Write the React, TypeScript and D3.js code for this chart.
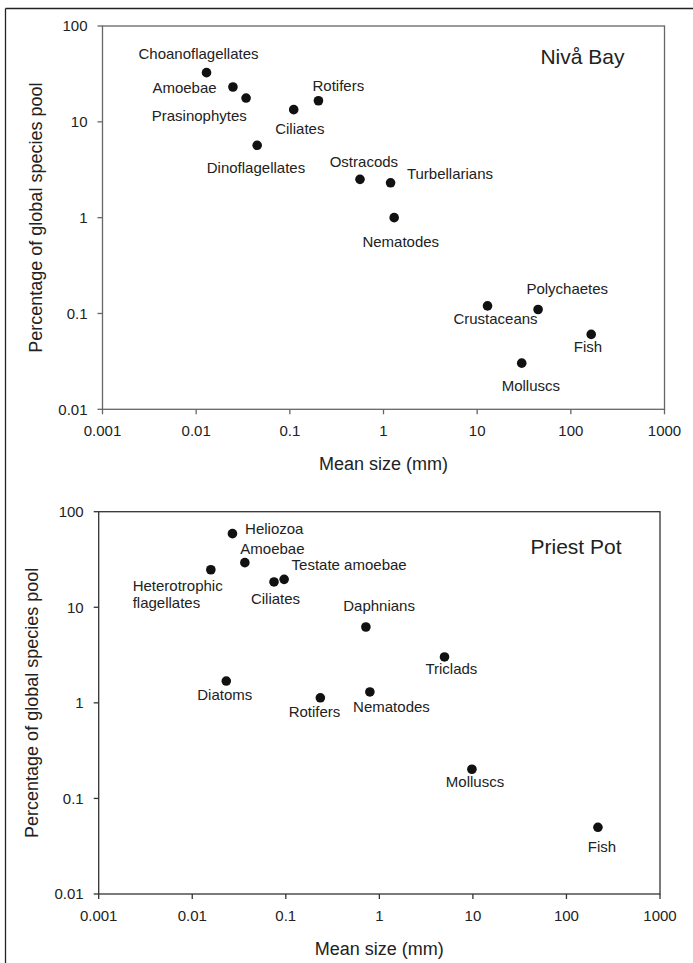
import React from "react";
import * as d3 from "d3";

// ---------- Data ----------
const xTickValues = [0.001, 0.01, 0.1, 1, 10, 100, 1000];
const xTickLabels = ["0.001", "0.01", "0.1", "1", "10", "100", "1000"];
const yTickValues = [0.01, 0.1, 1, 10, 100];
const yTickLabels = ["0.01", "0.1", "1", "10", "100"];

const nivaNames = [
  "Choanoflagellates", "Amoebae", "Prasinophytes", "Ciliates", "Rotifers",
  "Dinoflagellates", "Ostracods", "Turbellarians", "Nematodes",
  "Crustaceans", "Polychaetes", "Fish", "Molluscs",
];
const nivaSize = [0.0129, 0.0247, 0.0341, 0.110, 0.202, 0.0448, 0.561, 1.19, 1.30, 12.9, 44.7, 165, 29.9];
const nivaPct = [32.6, 23.1, 17.7, 13.4, 16.6, 5.69, 2.51, 2.31, 1.0, 0.12, 0.11, 0.0605, 0.0303];

const priestNames = [
  "Heliozoa", "Amoebae", "Heterotrophic flagellates", "Ciliates", "Testate amoebae",
  "Daphnians", "Triclads", "Diatoms", "Rotifers", "Nematodes", "Molluscs", "Fish",
];
const priestSize = [0.0269, 0.0365, 0.0158, 0.0748, 0.0960, 0.718, 4.97, 0.0231, 0.234, 0.792, 9.76, 217];
const priestPct = [58.9, 29.3, 24.7, 18.4, 19.6, 6.22, 3.02, 1.69, 1.13, 1.30, 0.202, 0.0499];

// ---------- Layout (label offsets in px relative to the dot) ----------
type Lab = { dx: number; dy: number; anchor?: string; lines?: string[] };
const nivaLabels: Lab[] = [
  { dx: -8, dy: -13.4 },
  { dx: -48.4, dy: 6.3 },
  { dx: -46.8, dy: 22.7 },
  { dx: 6.1, dy: 24.3 },
  { dx: 19.9, dy: -9.7 },
  { dx: -1.2, dy: 27.4 },
  { dx: 3.9, dy: -12 },
  { dx: 59.4, dy: -3.4 },
  { dx: 6.6, dy: 29.6 },
  { dx: 8, dy: 18.6 },
  { dx: 29.2, dy: -16 },
  { dx: -3.3, dy: 17.4 },
  { dx: 9.1, dy: 27.7 },
];
const priestLabels: Lab[] = [
  { dx: 41.8, dy: 0.6 },
  { dx: 27.6, dy: -8.7 },
  { dx: -78.2, dy: 21.3, anchor: "start", lines: ["Heterotrophic", "flagellates"] },
  { dx: 1.5, dy: 22 },
  { dx: 65, dy: -9 },
  { dx: 13.2, dy: -16.3 },
  { dx: 6.9, dy: 17.3 },
  { dx: -1.5, dy: 19 },
  { dx: -5.8, dy: 19 },
  { dx: 21.6, dy: 19.7 },
  { dx: 3.1, dy: 18 },
  { dx: 4.1, dy: 24.7 },
];

const FONT = "'Liberation Sans', Arial, Helvetica, sans-serif";

type PanelProps = {
  left: number; right: number; top: number; bottom: number;
  names: string[]; sizes: number[]; pcts: number[]; labels: Lab[];
  title: string; titleX: number; titleY: number; axisColor: string;
};

function Panel(p: PanelProps) {
  const x = d3.scaleLog().domain([0.001, 1000]).range([p.left, p.right]);
  const y = d3.scaleLog().domain([0.01, 100]).range([p.bottom, p.top]);
  const tick = 5;
  const midX = (p.left + p.right) / 2;
  const midY = (p.top + p.bottom) / 2;
  return (
    <g>
      <rect x={p.left} y={p.top} width={p.right - p.left} height={p.bottom - p.top}
        fill="none" stroke={p.axisColor} strokeWidth={1.3} />
      {xTickValues.map((v, i) => (
        <g key={"xt" + i}>
          <line x1={x(v)} x2={x(v)} y1={p.bottom} y2={p.bottom + tick} stroke={p.axisColor} strokeWidth={1.3} />
          <text x={x(v)} y={p.bottom + 27} textAnchor="middle" fontSize={15} fill="#222">{xTickLabels[i]}</text>
        </g>
      ))}
      {yTickValues.map((v, i) => (
        <g key={"yt" + i}>
          <line x1={p.left - tick} x2={p.left} y1={y(v)} y2={y(v)} stroke={p.axisColor} strokeWidth={1.3} />
          <text x={p.left - 15} y={y(v) + 5.3} textAnchor="end" fontSize={15} fill="#222">{yTickLabels[i]}</text>
        </g>
      ))}
      <text x={midX} y={p.bottom + 60.5} textAnchor="middle" fontSize={18} fill="#222">Mean size (mm)</text>
      <text transform={`translate(${p.left - 61}, ${midY}) rotate(-90)`} textAnchor="middle" fontSize={18} fill="#222">
        Percentage of global species pool
      </text>
      <text x={p.titleX} y={p.titleY} textAnchor="middle" fontSize={21} fill="#222">{p.title}</text>
      {p.names.map((n, i) => {
        const cx = x(p.sizes[i]);
        const cy = y(p.pcts[i]);
        const lab = p.labels[i];
        const lines = lab.lines || [n];
        return (
          <g key={"pt" + i}>
            <circle cx={cx} cy={cy} r={4.8} fill="#111" />
            <text x={cx + lab.dx} y={cy + lab.dy} textAnchor={lab.anchor || "middle"} fontSize={15} fill="#222">
              {lines.map((l, j) => (
                <tspan key={j} x={cx + lab.dx} dy={j === 0 ? 0 : 17.3}>{l}</tspan>
              ))}
            </text>
          </g>
        );
      })}
    </g>
  );
}

export default function App() {
  return (
    <svg width={693} height={963} viewBox="0 0 693 963"
      style={{ position: "absolute", left: 0, top: 0, background: "#fff", fontFamily: FONT }}>
      <rect x={0} y={0} width={693} height={963} fill="#fff" />
      <line x1={5.5} x2={5.5} y1={8.5} y2={963} stroke="#222" strokeWidth={1.3} />
      <line x1={5.5} x2={693} y1={8.5} y2={8.5} stroke="#222" strokeWidth={1.3} />
      <Panel left={102.5} right={664.5} top={26} bottom={409.3}
        names={nivaNames} sizes={nivaSize} pcts={nivaPct} labels={nivaLabels}
        title="Nivå Bay" titleX={582.4} titleY={63.5} axisColor="#666" />
      <Panel left={98.7} right={660} top={511.7} bottom={894}
        names={priestNames} sizes={priestSize} pcts={priestPct} labels={priestLabels}
        title="Priest Pot" titleX={576} titleY={554} axisColor="#333" />
    </svg>
  );
}
